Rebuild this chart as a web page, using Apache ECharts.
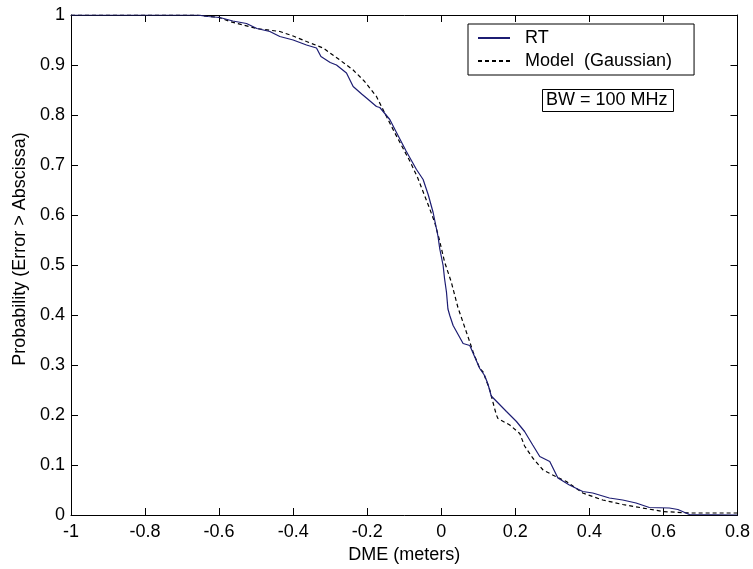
<!DOCTYPE html>
<html>
<head>
<meta charset="utf-8">
<script src="https://cdn.jsdelivr.net/npm/echarts@6/dist/echarts.min.js"></script>
<style>html,body{margin:0;padding:0;background:#fff;}#c{width:753px;height:569px;}</style>
</head>
<body>
<div id="c"></div>
<script>
// RT (ray tracing) curve
const rtX = [-1, -0.66, -0.63, -0.598, -0.563, -0.526, -0.498, -0.463, -0.436, -0.40, -0.364, -0.337, -0.325, -0.30, -0.283, -0.256, -0.238, -0.215, -0.202, -0.175, -0.166, -0.139, -0.121, -0.095, -0.067, -0.049, -0.035, -0.022, -0.009, -0.004, 0.005, 0.009, 0.014, 0.018, 0.023, 0.032, 0.036, 0.059, 0.064, 0.077, 0.104, 0.117, 0.126, 0.135, 0.176, 0.203, 0.225, 0.247, 0.266, 0.293, 0.315, 0.346, 0.382, 0.409, 0.454, 0.490, 0.526, 0.562, 0.616, 0.639, 0.670, 0.8];
const rtY = [1, 1, 0.997, 0.995, 0.988, 0.983, 0.973, 0.967, 0.957, 0.950, 0.940, 0.934, 0.917, 0.905, 0.900, 0.884, 0.857, 0.842, 0.834, 0.817, 0.815, 0.791, 0.765, 0.728, 0.691, 0.671, 0.640, 0.605, 0.558, 0.532, 0.499, 0.472, 0.446, 0.412, 0.399, 0.379, 0.376, 0.343, 0.339, 0.339, 0.293, 0.279, 0.262, 0.238, 0.207, 0.187, 0.167, 0.140, 0.117, 0.107, 0.074, 0.060, 0.047, 0.044, 0.034, 0.030, 0.024, 0.015, 0.014, 0.011, 0.001, 0];
// Gaussian model curve
const modelX = [-1, -0.66, -0.60, -0.571, -0.499, -0.436, -0.40, -0.364, -0.319, -0.274, -0.238, -0.207, -0.175, -0.150, -0.126, -0.085, -0.064, -0.031, -0.018, -0.005, 0.009, 0.027, 0.045, 0.077, 0.086, 0.104, 0.113, 0.131, 0.144, 0.149, 0.153, 0.185, 0.212, 0.225, 0.247, 0.275, 0.301, 0.338, 0.382, 0.436, 0.490, 0.544, 0.598, 0.670, 0.8];
const modelY = [1, 1, 0.995, 0.987, 0.973, 0.967, 0.958, 0.947, 0.934, 0.910, 0.890, 0.867, 0.837, 0.800, 0.765, 0.708, 0.675, 0.612, 0.586, 0.550, 0.506, 0.466, 0.415, 0.346, 0.326, 0.293, 0.286, 0.250, 0.213, 0.200, 0.193, 0.180, 0.163, 0.138, 0.114, 0.090, 0.080, 0.067, 0.044, 0.030, 0.021, 0.014, 0.007, 0.004, 0.004];

const seriesNames = ['RT', 'Model  (Gaussian)'];
const xTitle = 'DME (meters)';
const yTitle = 'Probability (Error > Abscissa)';
const annotation = 'BW = 100 MHz';

const FONT = 'Liberation Sans, Arial, Helvetica, sans-serif';
const chart = echarts.init(document.getElementById('c'));
const axisCommon = {
  axisLine: {show: true, onZero: false, lineStyle: {color: '#000', width: 1}},
  axisTick: {show: true, inside: true, length: 7, lineStyle: {color: '#000'}},
  splitLine: {show: false}
};
chart.setOption({
  backgroundColor: '#fff',
  animation: false,
  grid: {left: 71, top: 15, right: 15, bottom: 52},
  xAxis: [
    Object.assign({type: 'value', min: -1, max: 0.8, interval: 0.2, position: 'bottom',
      name: xTitle, nameLocation: 'middle', nameGap: 31,
      nameTextStyle: {fontFamily: FONT, fontSize: 18, color: '#000'},
      axisLabel: {fontFamily: FONT, fontSize: 18, color: '#000', margin: 8}}, axisCommon),
    Object.assign({type: 'value', min: -1, max: 0.8, interval: 0.2, position: 'top',
      axisLabel: {show: false}}, axisCommon)
  ],
  yAxis: [
    Object.assign({type: 'value', min: 0, max: 1, interval: 0.1, position: 'left',
      name: yTitle, nameLocation: 'middle', nameGap: 38,
      nameTextStyle: {fontFamily: FONT, fontSize: 18, color: '#000', padding: [0, 0, 0, 32]},
      axisLabel: {fontFamily: FONT, fontSize: 18, color: '#000', margin: 6}}, axisCommon),
    Object.assign({type: 'value', min: 0, max: 1, interval: 0.1, position: 'right',
      axisLabel: {show: false}}, axisCommon)
  ],
  legend: {
    left: 468, top: 24, orient: 'vertical',
    backgroundColor: '#fff', borderColor: '#000', borderWidth: 1,
    padding: [4, 22, 4, 9], itemGap: 3, itemWidth: 32, itemHeight: 14,
    itemStyle: {opacity: 0},
    textStyle: {fontFamily: FONT, fontSize: 18, color: '#000', lineHeight: 20, padding: [0, 0, 0, 10]},
    data: seriesNames
  },
  title: {
    text: annotation, left: 542, top: 89,
    borderColor: '#000', borderWidth: 1, padding: [1, 6, 1, 4], backgroundColor: '#fff',
    textStyle: {fontFamily: FONT, fontSize: 18, fontWeight: 'normal', color: '#000', lineHeight: 21}
  },
  series: [
    {name: seriesNames[0], type: 'line', symbol: 'none', z: 3,
      lineStyle: {color: '#1c1c72', width: 1.2}, itemStyle: {color: '#1c1c72'},
      data: rtX.map((x, i) => [x, rtY[i]])},
    {name: seriesNames[1], type: 'line', symbol: 'none', z: 2,
      lineStyle: {color: '#000', width: 1.2, type: [4, 3]}, itemStyle: {color: '#000'},
      data: modelX.map((x, i) => [x, modelY[i]])}
  ]
});
</script>
</body>
</html>
